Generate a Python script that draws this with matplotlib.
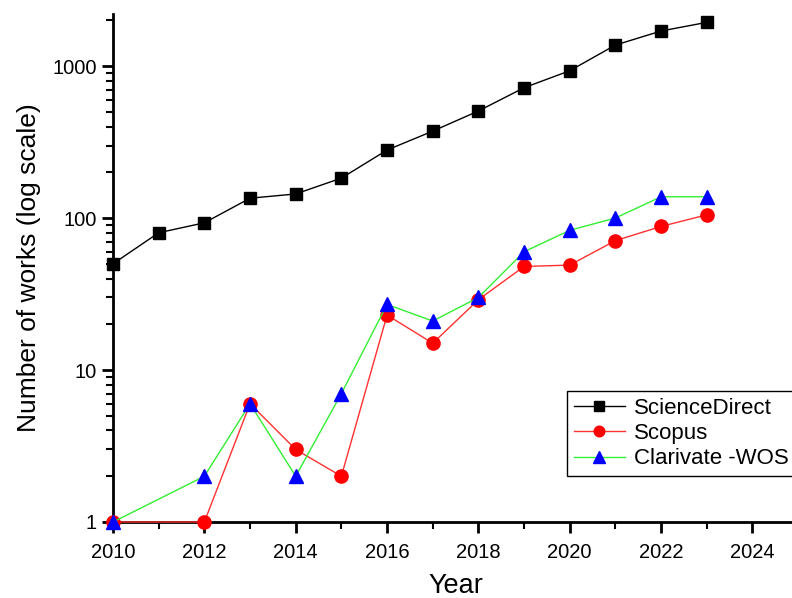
import matplotlib
matplotlib.use("Agg")
import matplotlib.pyplot as plt
from matplotlib.ticker import FixedLocator, NullFormatter, LogLocator, MultipleLocator

plt.rcParams['font.family'] = ['Liberation Sans', 'DejaVu Sans']

years_sd = [2010, 2011, 2012, 2013, 2014, 2015, 2016, 2017, 2018, 2019, 2020, 2021, 2022, 2023]
sciencedirect = [50, 80, 93, 135, 144, 183, 280, 373, 506, 720, 931, 1374, 1700, 1938]

years_sc = [2010, 2012, 2013, 2014, 2015, 2016, 2017, 2018, 2019, 2020, 2021, 2022, 2023]
scopus = [1, 1, 6, 3, 2, 23, 15, 29, 48, 49, 71, 88, 105]

years_wos = [2010, 2012, 2013, 2014, 2015, 2016, 2017, 2018, 2019, 2020, 2021, 2022, 2023]
wos = [1, 2, 6, 2, 7, 27, 21, 30, 60, 83, 100, 138, 138]

x_ticks = [2010, 2012, 2014, 2016, 2018, 2020, 2022, 2024]
y_ticks = [1, 10, 100, 1000]

fig = plt.figure(figsize=(7.92, 5.98), dpi=100)
ax = fig.add_axes([0.1427, 0.1271, 0.865, 0.8495])

ax.plot(years_sd, sciencedirect, color='black', lw=1, marker='s', ms=8.5,
        mfc='black', mec='black', label='ScienceDirect', clip_on=False, zorder=3)
ax.plot(years_sc, scopus, color='#ff3030', lw=1, marker='o', ms=9.5,
        mfc='red', mec='red', label='Scopus', clip_on=False, zorder=4)
ax.plot(years_wos, wos, color='#33ee33', lw=1, marker='^', ms=10.5,
        mfc='blue', mec='blue', label='Clarivate -WOS', clip_on=False, zorder=5)

ax.set_yscale('log')
ax.set_ylim(1, 2200)
ax.set_xlim(2010, 2025)

ax.xaxis.set_major_locator(FixedLocator(x_ticks))
ax.set_xticklabels([str(t) for t in x_ticks])
ax.xaxis.set_minor_locator(MultipleLocator(1))
ax.yaxis.set_major_locator(FixedLocator(y_ticks))
ax.set_yticklabels([str(t) for t in y_ticks])
ax.yaxis.set_minor_locator(LogLocator(base=10, subs=range(2, 10)))
ax.yaxis.set_minor_formatter(NullFormatter())

for s in ['top', 'right']:
    ax.spines[s].set_visible(False)
for s in ['left', 'bottom']:
    ax.spines[s].set_linewidth(2)

ax.tick_params(axis='both', which='major', direction='out', length=8, width=2, labelsize=14.5)
ax.tick_params(axis='x', which='major', pad=7)
ax.tick_params(axis='both', which='minor', direction='out', length=5, width=1.5)

ax.set_xlabel('Year', fontsize=19.5, labelpad=8)
ax.set_ylabel('Number of works (log scale)', fontsize=19, labelpad=8)

leg = ax.legend(loc='upper left', bbox_to_anchor=(0.663, 0.258), fontsize=16,
                frameon=True, fancybox=False, edgecolor='black', framealpha=1,
                handlelength=2.3, borderpad=0.3, labelspacing=0.2, handletextpad=0.4,
                markerscale=0.8, borderaxespad=0)
leg.get_frame().set_linewidth(1)

fig.savefig('out.png', dpi=100)
